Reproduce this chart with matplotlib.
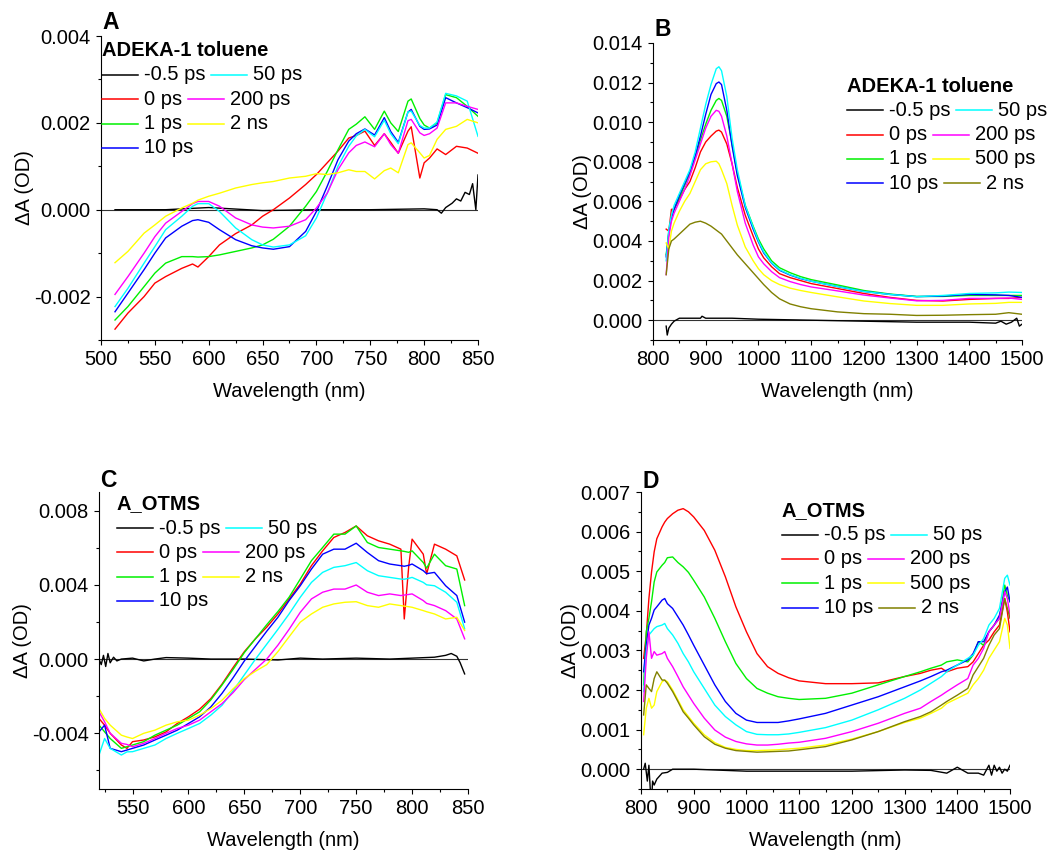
import numpy as np
import matplotlib
matplotlib.use("Agg")
import matplotlib.pyplot as plt
from matplotlib.ticker import MultipleLocator, FormatStrFormatter
from matplotlib.offsetbox import AnchoredOffsetbox, DrawingArea, TextArea, HPacker, VPacker
from matplotlib.lines import Line2D

plt.rcParams['font.family'] = ['Liberation Sans', 'DejaVu Sans']
plt.rcParams['font.size'] = 14.5
plt.rcParams['axes.unicode_minus'] = False

# trace colours (Origin defaults)
col_bg = 'black'
col_0 = '#FF0000'
col_1 = '#00F000'
col_10 = '#0000FF'
col_50 = '#00FFFF'
col_200 = '#FF00FF'
col_500 = '#FFFF00'
col_2ns = '#808000'

# ---------------- panel A : ADEKA-1 toluene, visible (mOD) ----------------
wl_a = [513, 525, 540, 550, 560, 575, 585, 590, 600, 610, 625, 640, 650, 660, 675, 690, 700, 710, 720,
        730, 737, 745, 754, 763, 769, 776, 785, 788, 796, 800, 805, 812, 820, 830, 840, 850]
a_0ps = [-2.75, -2.38, -2.0, -1.69, -1.54, -1.35, -1.25, -1.32, -1.08, -0.81, -0.55, -0.35, -0.15, 0.0, 0.27,
         0.58, 0.81, 1.08, 1.35, 1.65, 1.71, 1.81, 1.48, 1.75, 1.55, 1.3, 1.81, 1.91, 0.73, 1.08, 1.19, 1.4,
         1.27, 1.46, 1.42, 1.3]
a_1ps = [-2.54, -2.23, -1.77, -1.46, -1.23, -1.08, -1.08, -1.09, -1.08, -1.04, -0.96, -0.88, -0.81, -0.68,
         -0.38, 0.08, 0.42, 0.88, 1.38, 1.85, 1.97, 2.14, 1.85, 2.27, 2.0, 1.8, 2.5, 2.55, 2.1, 1.95, 1.88, 2.0,
         2.65, 2.58, 2.38, 2.15]
a_10ps = [-2.35, -1.92, -1.38, -1.0, -0.65, -0.38, -0.25, -0.23, -0.29, -0.46, -0.69, -0.83, -0.88, -0.91,
          -0.85, -0.5, -0.04, 0.54, 1.15, 1.58, 1.75, 1.86, 1.72, 2.12, 1.8, 1.55, 2.25, 2.31, 1.92, 1.85, 1.86,
          1.95, 2.58, 2.46, 2.35, 2.23]
a_50ps = [-2.23, -1.81, -1.23, -0.85, -0.46, -0.15, 0.08, 0.14, 0.14, -0.04, -0.42, -0.69, -0.81, -0.86,
          -0.81, -0.6, -0.19, 0.38, 1.0, 1.46, 1.7, 1.85, 1.68, 2.06, 1.75, 1.52, 2.25, 2.27, 1.94, 1.88, 1.88,
          2.02, 2.68, 2.62, 2.5, 1.69]
a_200ps = [-1.95, -1.54, -1.0, -0.62, -0.31, -0.04, 0.14, 0.19, 0.19, 0.08, -0.19, -0.35, -0.4, -0.42, -0.38,
           -0.23, 0.04, 0.38, 0.92, 1.31, 1.48, 1.56, 1.45, 1.75, 1.5, 1.3, 2.05, 2.08, 1.77, 1.71, 1.75, 1.88,
           2.46, 2.46, 2.38, 2.31]
a_2ns = [-1.22, -0.96, -0.54, -0.35, -0.15, 0.04, 0.15, 0.22, 0.31, 0.38, 0.5, 0.58, 0.62, 0.65, 0.73, 0.77,
         0.83, 0.81, 0.85, 0.92, 0.88, 0.88, 0.71, 0.9, 0.96, 0.85, 1.5, 1.54, 1.31, 1.19, 1.25, 1.62, 1.85,
         1.92, 2.08, 2.0]
wl_a_bg = [513, 560, 600, 650, 700, 750, 800, 812, 816, 820, 826, 830, 834, 838, 842, 845, 848, 850]
a_bg = [0, 0, 0.05, -0.02, 0, 0, 0.02, 0, -0.08, 0.05, 0.15, 0.25, 0.2, 0.4, 0.35, 0.6, 0.0, 0.8]

# ---------------- panel B : ADEKA-1 toluene, NIR (mOD) ----------------
wl_b = [825, 830, 835, 840, 850, 860, 870, 880, 890, 900, 910, 920, 925, 930, 940, 950, 960, 975, 990, 1000,
        1010, 1025, 1040, 1060, 1080, 1100, 1150, 1200, 1250, 1300, 1350, 1400, 1450, 1475, 1500]
b_0ps = [4.6, 4.5, 5.6, 5.6, 6.1, 6.6, 7.0, 7.7, 8.5, 9.0, 9.3, 9.55, 9.6, 9.5, 8.9, 7.9, 6.7, 5.3, 4.25, 3.6,
         3.15, 2.7, 2.35, 2.15, 2.0, 1.85, 1.6, 1.35, 1.15, 1.0, 0.97, 1.05, 1.1, 1.1, 1.15]
b_1ps = [3.3, 4.5, 5.2, 5.6, 6.2, 6.8, 7.4, 8.2, 9.1, 9.9, 10.6, 11.1, 11.2, 11.1, 10.3, 8.9, 7.4, 5.8, 4.75,
         4.1, 3.6, 3.0, 2.65, 2.4, 2.2, 2.05, 1.78, 1.5, 1.32, 1.2, 1.2, 1.25, 1.25, 1.25, 1.25]
b_10ps = [3.2, 4.4, 5.2, 5.6, 6.3, 6.9, 7.5, 8.3, 9.3, 10.4, 11.4, 11.95, 12.03, 11.9, 10.6, 8.8, 7.3, 5.7,
          4.6, 3.95, 3.4, 2.88, 2.52, 2.28, 2.1, 1.97, 1.7, 1.45, 1.3, 1.19, 1.22, 1.3, 1.28, 1.25, 1.15]
b_50ps = [3.0, 4.6, 5.3, 5.8, 6.4, 7.0, 7.6, 8.5, 9.7, 10.9, 11.9, 12.7, 12.8, 12.6, 11.3, 9.2, 7.6, 5.8, 4.7,
          4.0, 3.45, 2.9, 2.55, 2.3, 2.12, 1.97, 1.7, 1.45, 1.3, 1.19, 1.25, 1.35, 1.38, 1.42, 1.4]
b_200ps = [2.3, 4.2, 5.0, 5.4, 6.0, 6.6, 7.3, 8.1, 8.9, 9.7, 10.3, 10.6, 10.55, 10.3, 9.3, 7.9, 6.5, 4.9, 3.8,
           3.2, 2.85, 2.45, 2.15, 1.95, 1.8, 1.68, 1.48, 1.27, 1.12, 0.98, 1.0, 1.1, 1.1, 1.12, 1.05]
b_500ps = [3.9, 3.6, 4.5, 4.9, 5.5, 6.0, 6.4, 7.0, 7.6, 7.9, 8.0, 8.03, 7.9, 7.6, 6.9, 5.8, 4.8, 3.7, 3.0, 2.6,
           2.3, 2.0, 1.8, 1.62, 1.5, 1.4, 1.18, 0.97, 0.84, 0.75, 0.75, 0.82, 0.85, 0.9, 0.9]
b_2ns = [2.3, 3.6, 4.0, 4.1, 4.35, 4.6, 4.85, 4.95, 5.0, 4.9, 4.75, 4.55, 4.45, 4.35, 4.0, 3.65, 3.3, 2.85, 2.4,
         2.1, 1.8, 1.4, 1.08, 0.82, 0.68, 0.58, 0.42, 0.33, 0.3, 0.24, 0.25, 0.28, 0.3, 0.38, 0.3]
wl_b_bg = [825, 827, 830, 835, 840, 850, 870, 890, 893, 900, 950, 1000, 1100, 1200, 1300, 1400, 1450, 1460,
           1470, 1480, 1490, 1495, 1500]
b_bg = [-0.3, -0.75, -0.4, -0.2, -0.05, 0.1, 0.1, 0.1, 0.2, 0.1, 0.1, 0.05, 0, -0.05, -0.1, -0.1, -0.15, -0.05,
        -0.2, -0.1, 0.1, -0.3, -0.2]

# ---------------- panel C : A_OTMS, visible (mOD) ----------------
wl_c = [520, 525, 530, 540, 545, 550, 560, 570, 580, 590, 600, 610, 620, 630, 640, 650, 660, 670, 680, 690,
        700, 710, 720, 730, 740, 750, 760, 770, 780, 790, 793, 797, 800, 810, 813, 820, 830, 840, 847]
c_0ps = [-3.2, -3.56, -4.0, -4.63, -4.81, -4.45, -4.36, -4.19, -3.92, -3.47, -3.11, -2.7, -2.13, -1.35, -0.45,
         0.4, 1.1, 1.72, 2.43, 3.24, 4.04, 5.03, 5.83, 6.55, 6.82, 7.17, 6.64, 6.37, 6.19, 5.92, 2.16, 5.0, 6.46,
         5.65, 4.58, 6.19, 5.92, 5.56, 4.26]
c_1ps = [-3.56, -3.92, -4.28, -4.81, -4.72, -4.63, -4.45, -4.1, -3.83, -3.56, -3.2, -2.84, -2.2, -1.4, -0.55,
         0.35, 1.1, 1.85, 2.56, 3.33, 4.31, 5.3, 6.01, 6.73, 6.73, 7.17, 6.28, 6.01, 5.92, 5.83, 5.8, 5.75, 5.83,
         5.2, 4.9, 5.65, 5.03, 4.85, 2.88]
c_10ps = [-3.92, -3.56, -4.81, -4.99, -4.9, -4.81, -4.63, -4.36, -4.1, -3.83, -3.47, -3.11, -2.58, -1.85, -1.0,
          -0.1, 0.7, 1.5, 2.25, 3.15, 3.95, 4.85, 5.65, 5.92, 5.92, 6.24, 5.74, 5.3, 5.12, 5.03, 5.0, 5.05, 5.12,
          4.76, 4.6, 4.67, 3.95, 3.42, 1.99]
c_50ps = [-5.17, -4.28, -4.81, -5.17, -5.0, -4.99, -4.81, -4.63, -4.28, -4.0, -3.74, -3.47, -3.02, -2.49, -1.7,
          -0.85, 0.0, 0.8, 1.6, 2.43, 3.33, 4.13, 4.67, 4.94, 5.03, 5.2, 4.76, 4.49, 4.4, 4.31, 4.3, 4.35, 4.4,
          4.13, 4.0, 3.95, 3.6, 3.06, 1.63]
c_200ps = [-2.84, -3.38, -4.0, -4.54, -4.6, -4.72, -4.54, -4.28, -4.0, -3.74, -3.56, -3.29, -2.84, -2.4, -1.8,
           -1.1, -0.55, 0.0, 0.75, 1.6, 2.52, 3.24, 3.6, 3.77, 3.77, 3.99, 3.6, 3.42, 3.51, 3.42, 3.45, 3.48, 3.51,
           3.15, 3.0, 2.88, 2.61, 2.16, 1.09]
c_2ns = [-2.67, -3.2, -3.56, -4.1, -4.2, -4.28, -4.0, -3.83, -3.56, -3.38, -3.29, -3.02, -2.67, -2.22, -1.6,
         -1.05, -0.65, -0.3, 0.4, 1.2, 1.99, 2.43, 2.79, 2.97, 3.06, 3.09, 2.88, 2.79, 2.97, 2.88, 2.85, 2.82, 2.79,
         2.61, 2.55, 2.43, 2.16, 2.25, 1.54]
wl_c_bg = [520, 522, 524, 526, 528, 530, 533, 536, 540, 550, 560, 570, 580, 600, 620, 650, 680, 700, 720, 750,
           780, 800, 820, 830, 835, 840, 843, 847]
c_bg = [0.0, -0.3, 0.2, -0.4, 0.3, -0.2, 0.1, -0.1, 0.0, 0.05, -0.1, 0.0, 0.08, 0.05, 0.0, 0.0, -0.05, 0.05, 0.0,
        0.05, 0.0, 0.05, 0.1, 0.2, 0.3, 0.15, -0.2, -0.8]

# ---------------- panel D : A_OTMS, NIR (mOD) ----------------
wl_d = [805, 810, 815, 820, 825, 830, 840, 845, 850, 860, 870, 880, 890, 900, 920, 940, 960, 980, 1000, 1020,
        1040, 1060, 1080, 1100, 1150, 1200, 1250, 1300, 1330, 1350, 1370, 1380, 1400, 1420, 1430, 1440, 1450,
        1460, 1470, 1480, 1490, 1495, 1500]
d_0ps = [2.8, 3.39, 4.31, 4.98, 5.49, 5.82, 6.12, 6.24, 6.33, 6.45, 6.54, 6.58, 6.5, 6.37, 6.03, 5.53, 4.86,
         4.1, 3.47, 2.92, 2.59, 2.42, 2.31, 2.23, 2.16, 2.16, 2.18, 2.34, 2.42, 2.5, 2.55, 2.46, 2.55, 2.59, 2.71,
         2.92, 3.13, 3.26, 3.47, 3.64, 4.31, 3.97, 3.47]
d_1ps = [2.13, 3.47, 3.81, 4.23, 4.73, 4.98, 5.15, 5.22, 5.34, 5.36, 5.22, 5.11, 4.97, 4.77, 4.35, 3.81, 3.22,
         2.67, 2.29, 2.04, 1.92, 1.83, 1.79, 1.76, 1.79, 1.92, 2.13, 2.34, 2.46, 2.55, 2.63, 2.71, 2.76, 2.71,
         2.88, 3.22, 3.13, 3.47, 3.64, 3.81, 4.65, 4.39, 4.23]
d_10ps = [2.46, 3.13, 3.64, 3.81, 4.02, 4.1, 4.27, 4.31, 4.18, 4.06, 3.85, 3.64, 3.39, 3.13, 2.63, 2.13, 1.71,
          1.41, 1.24, 1.18, 1.18, 1.18, 1.22, 1.27, 1.41, 1.62, 1.83, 2.08, 2.23, 2.34, 2.46, 2.5, 2.63, 2.76,
          2.92, 3.22, 3.22, 3.47, 3.64, 3.89, 4.48, 4.6, 4.23]
d_50ps = [1.96, 2.97, 3.39, 3.47, 3.55, 3.6, 3.64, 3.68, 3.55, 3.39, 3.18, 2.92, 2.71, 2.46, 2.04, 1.62, 1.33,
          1.12, 0.95, 0.88, 0.87, 0.87, 0.89, 0.93, 1.05, 1.24, 1.5, 1.79, 2.0, 2.17, 2.34, 2.46, 2.63, 2.8, 2.88,
          3.13, 3.3, 3.64, 3.81, 4.06, 4.82, 4.9, 4.65]
d_200ps = [1.71, 2.8, 3.47, 2.8, 2.97, 2.88, 2.92, 2.97, 2.8, 2.59, 2.34, 2.08, 1.87, 1.66, 1.29, 0.99, 0.81,
           0.7, 0.64, 0.61, 0.61, 0.63, 0.66, 0.68, 0.78, 0.95, 1.16, 1.41, 1.54, 1.71, 1.87, 1.96, 2.13, 2.29,
           2.63, 2.8, 3.05, 3.47, 3.64, 3.81, 4.48, 4.31, 3.89]
d_500ps = [0.87, 1.54, 1.79, 1.54, 1.62, 1.96, 2.21, 2.25, 2.21, 2.0, 1.75, 1.5, 1.33, 1.16, 0.87, 0.67, 0.55,
           0.5, 0.47, 0.47, 0.48, 0.49, 0.51, 0.53, 0.61, 0.76, 0.95, 1.18, 1.29, 1.41, 1.54, 1.66, 1.79, 1.92,
           2.13, 2.29, 2.5, 2.8, 3.01, 3.22, 3.81, 3.64, 3.05]
d_2ns = [1.37, 2.13, 2.04, 1.96, 2.29, 2.46, 2.25, 2.25, 2.17, 1.96, 1.71, 1.45, 1.29, 1.12, 0.82, 0.63, 0.53,
         0.47, 0.45, 0.43, 0.44, 0.45, 0.46, 0.49, 0.57, 0.74, 0.95, 1.2, 1.33, 1.45, 1.62, 1.71, 1.87, 2.04,
         2.38, 2.59, 2.8, 3.13, 3.39, 3.55, 4.31, 4.06, 3.81]
wl_d_bg = [805, 808, 812, 815, 818, 820, 822, 825, 830, 840, 850, 860, 900, 1000, 1100, 1200, 1300, 1350, 1380,
           1400, 1420, 1440, 1450, 1460, 1465, 1470, 1475, 1480, 1485, 1490, 1495, 1500]
d_bg = [0.0, 0.15, -0.3, 0.1, -0.6, -0.8, -0.3, -0.4, -0.25, -0.1, -0.08, 0.0, 0.0, -0.05, -0.05, -0.05, -0.02,
        -0.03, -0.1, 0.05, -0.1, -0.1, -0.15, 0.1, -0.15, 0.1, -0.05, 0.05, -0.1, 0.0, -0.05, 0.1]

# legend rows: Origin writes two entries per line, the second one straight after the first
rows_7 = [[('-0.5 ps', col_bg), ('50 ps', col_50)],
          [('0 ps', col_0), ('200 ps', col_200)],
          [('1 ps', col_1), ('2 ns', col_500)],
          [('10 ps', col_10)]]
rows_8 = [[('-0.5 ps', col_bg), ('50 ps', col_50)],
          [('0 ps', col_0), ('200 ps', col_200)],
          [('1 ps', col_1), ('500 ps', col_500)],
          [('10 ps', col_10), ('2 ns', col_2ns)]]


fig = plt.figure(figsize=(10.48, 8.5), dpi=100)
W, H = 1048, 850


def make_axes(left, top, right, bottom):
    # axes from pixel edges of the reference image
    return fig.add_axes([left / W, 1 - bottom / H, (right - left) / W, (bottom - top) / H])


def style(ax, xlim, ylim, xmaj, xmin, ymaj, ymin):
    ax.set_xlim(*xlim)
    ax.set_ylim(*ylim)
    ax.xaxis.set_major_locator(MultipleLocator(xmaj))
    ax.xaxis.set_minor_locator(MultipleLocator(xmin))
    ax.yaxis.set_major_locator(MultipleLocator(ymaj))
    ax.yaxis.set_minor_locator(MultipleLocator(ymin))
    ax.yaxis.set_major_formatter(FormatStrFormatter('%.3f'))
    ax.spines['top'].set_visible(False)
    ax.spines['right'].set_visible(False)
    ax.tick_params(which='major', direction='out', length=3.5, width=0.8, pad=4)
    ax.tick_params(which='minor', direction='out', length=2, width=0.8)
    ax.axhline(0, color='0.2', lw=0.8, zorder=0)
    ax.set_xlabel('Wavelength (nm)', labelpad=9)
    ax.set_ylabel('ΔA (OD)', labelpad=0)


def add_legend(ax, title, rows, x, y):
    lines = [TextArea(title, textprops=dict(fontweight='bold', fontsize=14.5))]
    for row in rows:
        parts = []
        for lab, col in row:
            da = DrawingArea(26, 8, 0, 0)
            da.add_artist(Line2D([0, 26], [4, 4], color=col, lw=1.1))
            parts += [da, TextArea(lab)]
        lines.append(HPacker(children=parts, align='center', pad=0, sep=4.3))
    box = VPacker(children=lines, align='left', pad=0, sep=3.8)
    ax.add_artist(AnchoredOffsetbox(loc='upper left', child=box, pad=0, borderpad=0, frameon=False,
                                    bbox_to_anchor=(x, y), bbox_transform=ax.transAxes))


# panel A
axA = make_axes(101, 36, 478, 340)
axA.plot(wl_a_bg, np.array(a_bg) * 1e-3, color=col_bg, lw=1.0)
axA.plot(wl_a, np.array(a_0ps) * 1e-3, color=col_0, lw=1.0)
axA.plot(wl_a, np.array(a_1ps) * 1e-3, color=col_1, lw=1.0)
axA.plot(wl_a, np.array(a_10ps) * 1e-3, color=col_10, lw=1.0)
axA.plot(wl_a, np.array(a_50ps) * 1e-3, color=col_50, lw=1.0)
axA.plot(wl_a, np.array(a_200ps) * 1e-3, color=col_200, lw=1.0)
axA.plot(wl_a, np.array(a_2ns) * 1e-3, color=col_500, lw=1.0)
style(axA, (500, 850), (-0.003, 0.004), 50, 25, 0.002, 0.001)
add_legend(axA, 'ADEKA-1 toluene', rows_7, 0.002, 0.983)

# panel B
axB = make_axes(653, 43, 1022, 340)
axB.plot(wl_b_bg, np.array(b_bg) * 1e-3, color=col_bg, lw=1.0)
axB.plot(wl_b, np.array(b_0ps) * 1e-3, color=col_0, lw=1.0)
axB.plot(wl_b, np.array(b_1ps) * 1e-3, color=col_1, lw=1.0)
axB.plot(wl_b, np.array(b_10ps) * 1e-3, color=col_10, lw=1.0)
axB.plot(wl_b, np.array(b_50ps) * 1e-3, color=col_50, lw=1.0)
axB.plot(wl_b, np.array(b_200ps) * 1e-3, color=col_200, lw=1.0)
axB.plot(wl_b, np.array(b_500ps) * 1e-3, color=col_500, lw=1.0)
axB.plot(wl_b, np.array(b_2ns) * 1e-3, color=col_2ns, lw=1.0)
style(axB, (800, 1500), (-0.001, 0.014), 100, 50, 0.002, 0.001)
add_legend(axB, 'ADEKA-1 toluene', rows_8, 0.525, 0.887)

# panel C
axC = make_axes(99, 492, 468, 789)
axC.plot(wl_c_bg, np.array(c_bg) * 1e-3, color=col_bg, lw=1.0)
axC.plot(wl_c, np.array(c_0ps) * 1e-3, color=col_0, lw=1.0)
axC.plot(wl_c, np.array(c_1ps) * 1e-3, color=col_1, lw=1.0)
axC.plot(wl_c, np.array(c_10ps) * 1e-3, color=col_10, lw=1.0)
axC.plot(wl_c, np.array(c_50ps) * 1e-3, color=col_50, lw=1.0)
axC.plot(wl_c, np.array(c_200ps) * 1e-3, color=col_200, lw=1.0)
axC.plot(wl_c, np.array(c_2ns) * 1e-3, color=col_500, lw=1.0)
style(axC, (520, 850), (-0.007, 0.009), 50, 25, 0.004, 0.002)
add_legend(axC, 'A_OTMS', rows_7, 0.048, 0.992)

# panel D
axD = make_axes(641, 492, 1010, 789)
axD.plot(wl_d_bg, np.array(d_bg) * 1e-3, color=col_bg, lw=1.0)
axD.plot(wl_d, np.array(d_0ps) * 1e-3, color=col_0, lw=1.0)
axD.plot(wl_d, np.array(d_1ps) * 1e-3, color=col_1, lw=1.0)
axD.plot(wl_d, np.array(d_10ps) * 1e-3, color=col_10, lw=1.0)
axD.plot(wl_d, np.array(d_50ps) * 1e-3, color=col_50, lw=1.0)
axD.plot(wl_d, np.array(d_200ps) * 1e-3, color=col_200, lw=1.0)
axD.plot(wl_d, np.array(d_500ps) * 1e-3, color=col_500, lw=1.0)
axD.plot(wl_d, np.array(d_2ns) * 1e-3, color=col_2ns, lw=1.0)
style(axD, (800, 1500), (-0.0005, 0.007), 100, 50, 0.001, 0.0005)
add_legend(axD, 'A_OTMS', rows_8, 0.381, 0.97)

# panel letters
for letter, x, y in [('A', 102, 29), ('B', 654, 36), ('C', 100, 487), ('D', 642, 488)]:
    fig.text(x / W, 1 - y / H, letter, fontsize=16.5, fontweight='bold', ha='left', va='baseline')

fig.savefig('out.png', dpi=100)
